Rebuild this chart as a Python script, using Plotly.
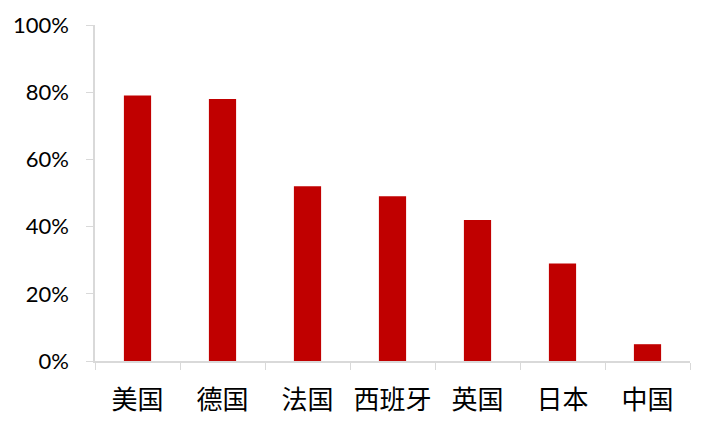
import plotly.graph_objects as go

countries = ["美国", "德国", "法国", "西班牙", "英国", "日本", "中国"]
shares = [0.79, 0.78, 0.52, 0.49, 0.42, 0.29, 0.05]

fig = go.Figure()
fig.add_trace(go.Bar(x=countries, y=shares, marker_color="#C00000",
                     marker_line_width=0))

# page body has an 8px margin, so the plot area is shifted up/left by that
fig.update_layout(
    width=717, height=435,
    margin=dict(l=87, r=35, t=17, b=82),
    plot_bgcolor="white", paper_bgcolor="white",
    bargap=0.68,
    showlegend=False,
)
fig.update_yaxes(
    range=[0, 1], tickvals=[0, 0.2, 0.4, 0.6, 0.8, 1.0], tickformat=".0%",
    showgrid=False, showline=True, linecolor="#d9d9d9", linewidth=1.5,
    ticks="outside", ticklen=7, tickcolor="#d9d9d9",
    tickfont=dict(family="Lato, Open Sans, sans-serif", size=22, color="black"),
    ticklabelstandoff=13, automargin=False,
)
fig.update_xaxes(
    showline=True, linecolor="#d9d9d9", linewidth=1.5,
    ticks="outside", ticklen=7, tickcolor="#d9d9d9", tickson="boundaries",
    tickangle=0,
    tickfont=dict(family="Noto Sans CJK SC", size=26, color="black"),
    ticklabelstandoff=15, automargin=False,
)

fig.write_html("out.html")
